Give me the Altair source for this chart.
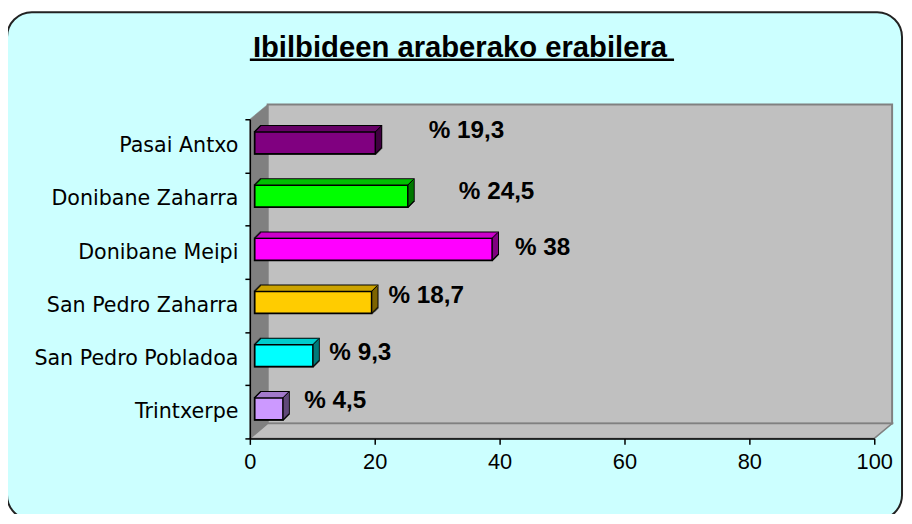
import altair as alt
import pandas as pd

# ---------------- data ----------------
categories = ["Pasai Antxo", "Donibane Zaharra", "Donibane Meipi",
              "San Pedro Zaharra", "San Pedro Pobladoa", "Trintxerpe"]
values = [19.3, 24.5, 38, 18.7, 9.3, 4.5]
x_ticks = [0, 20, 40, 60, 80, 100]
title_text = "Ibilbideen araberako erabilera"

# ---------------- styles / layout ----------------
front_colors = ["#800080", "#00FF00", "#FF00FF", "#FFCC00", "#00FFFF", "#CC99FF"]
top_colors = ["#660066", "#00CC00", "#CC00CC", "#CCA300", "#00CCCC", "#A37ACC"]
side_colors = ["#400040", "#008000", "#800080", "#806600", "#008080", "#664D80"]
label_dx = [97, 94.6, 56, 60.2, 52.9, 57.9]
label_dy = [-14.8, -6.8, -4.2, -9.5, -6, -10.7]

labels = ["% " + f"{v:g}".replace(".", ",") for v in values]
df = pd.DataFrame({"cat": categories, "value": values, "label": labels})
one = pd.DataFrame({"d": [0]})

PW, PH = 630, 322
BAR_OFF = 5      # bar front face offset from the front axis plane
DEPTH = 6        # bar extrusion
BAR_H = 22
BAR_YC = -3      # bar centre relative to band centre
FRONT_TOP = BAR_YC - BAR_H / 2

x_enc = alt.X("value:Q", stack=None,
              scale=alt.Scale(domain=[0, 100], nice=False, zero=True),
              axis=alt.Axis(title=None, values=x_ticks, grid=False,
                            domainColor="black", domainWidth=1.5,
                            tickColor="black", tickWidth=1.5, tickSize=6,
                            labelFont="Liberation Sans", labelFontSize=22,
                            labelColor="black", labelPadding=7,
                            labelFlush=False, labelOverlap=False, zindex=1))
y_enc = alt.Y("cat:N", sort=categories,
              scale=alt.Scale(domain=categories, paddingInner=0, paddingOuter=0),
              axis=alt.Axis(title=None, grid=False,
                            domainColor="black", domainWidth=1.5,
                            tickColor="black", tickWidth=1.5, tickSize=5,
                            tickBand="extent",
                            labelFont="DejaVu Sans", labelFontSize=20.8,
                            labelColor="black", labelPadding=7,
                            labelLimit=400, zindex=1))
x_zero = alt.X2(datum=0)

def col(rng):
    return alt.Color("cat:N", scale=alt.Scale(domain=categories, range=rng), legend=None)

base = alt.Chart(df)
layers = []

# outer rounded frame
layers.append(alt.Chart(one).mark_rect(
    fill="#CCFFFF", stroke="#222222", strokeWidth=2, cornerRadius=25
).encode(x=alt.value(-245), x2=alt.value(658), y=alt.value(-108), y2=alt.value(404)))

# title + underline
layers.append(alt.Chart(one).mark_text(
    text=title_text, font="Liberation Sans", fontWeight="bold", fontSize=29.5,
    align="center", baseline="alphabetic", color="black"
).encode(x=alt.value(212), y=alt.value(-63)))
layers.append(alt.Chart(one).mark_rule(color="black", strokeWidth=2.5).encode(
    x=alt.value(0), x2=alt.value(428), y=alt.value(-60)))

# 3D frame: back wall, left wall, floor (unit = 100 px)
back_wall = "M0.18,-0.15L6.48,-0.15L6.48,3.07L0.18,3.07Z"
left_wall = "M0,0L0.18,-0.15L0.18,3.07L0,3.22Z"
floor = "M0,3.22L0.18,3.07L6.48,3.07L6.30,3.22Z"
for path, fill, stroke, sw in [(back_wall, "#C0C0C0", "#808080", 2),
                               (left_wall, "#808080", "#808080", 0.5),
                               (floor, "#C0C0C0", "#808080", 1.5)]:
    layers.append(alt.Chart(one).mark_point(
        shape=path, size=40000, filled=True, fill=fill, stroke=stroke,
        strokeWidth=sw, opacity=1, fillOpacity=1
    ).encode(x=alt.value(0), y=alt.value(0)))

# bar silhouettes (black outline)
for s in range(DEPTH + 1):
    layers.append(base.mark_bar(
        color="black", size=BAR_H + 2,
        xOffset=BAR_OFF + s + 1, x2Offset=BAR_OFF + s - 1, yOffset=BAR_YC - s
    ).encode(x=x_enc, x2=x_zero, y=y_enc))

# top faces
for s in range(1, DEPTH + 1):
    layers.append(base.mark_bar(
        size=1.5, xOffset=BAR_OFF + s, x2Offset=BAR_OFF + s,
        yOffset=FRONT_TOP - s + 0.75
    ).encode(x=x_enc, x2=x_zero, y=y_enc, color=col(top_colors)))

# side faces
for s in range(1, DEPTH + 1):
    layers.append(base.mark_bar(
        size=BAR_H, xOffset=BAR_OFF + s - 1.5, x2Offset=BAR_OFF + s,
        yOffset=BAR_YC - s
    ).encode(x=x_enc, x2="value:Q", y=y_enc, color=col(side_colors)))

# front faces
layers.append(base.mark_bar(
    size=BAR_H, xOffset=BAR_OFF, x2Offset=BAR_OFF, yOffset=BAR_YC,
    stroke="black", strokeWidth=1.5
).encode(x=x_enc, x2=x_zero, y=y_enc, color=col(front_colors)))

# edge between top and side face
layers.append(base.mark_rule(
    color="black", strokeWidth=1,
    xOffset=BAR_OFF, x2Offset=BAR_OFF + DEPTH,
    yOffset=FRONT_TOP, y2Offset=FRONT_TOP - DEPTH
).encode(x=x_enc, x2="value:Q", y=y_enc, y2="cat:N"))

# value labels
for i, c in enumerate(categories):
    layers.append(base.transform_filter(alt.datum.cat == c).mark_text(
        font="Liberation Sans", fontWeight="bold", fontSize=24.5, color="black",
        align="center", baseline="middle", dx=label_dx[i], dy=label_dy[i]
    ).encode(x=x_enc, y=y_enc, text="label:N"))

chart = alt.layer(*layers).resolve_scale(color="independent").properties(
    width=PW, height=PH,
    padding={"left": 244, "top": 110, "right": 30, "bottom": 74},
    autosize=alt.AutoSizeParams(type="none"),
    background="white",
).configure_view(strokeWidth=0)

chart.save("out.html", embed_options={"renderer": "svg", "actions": False})
